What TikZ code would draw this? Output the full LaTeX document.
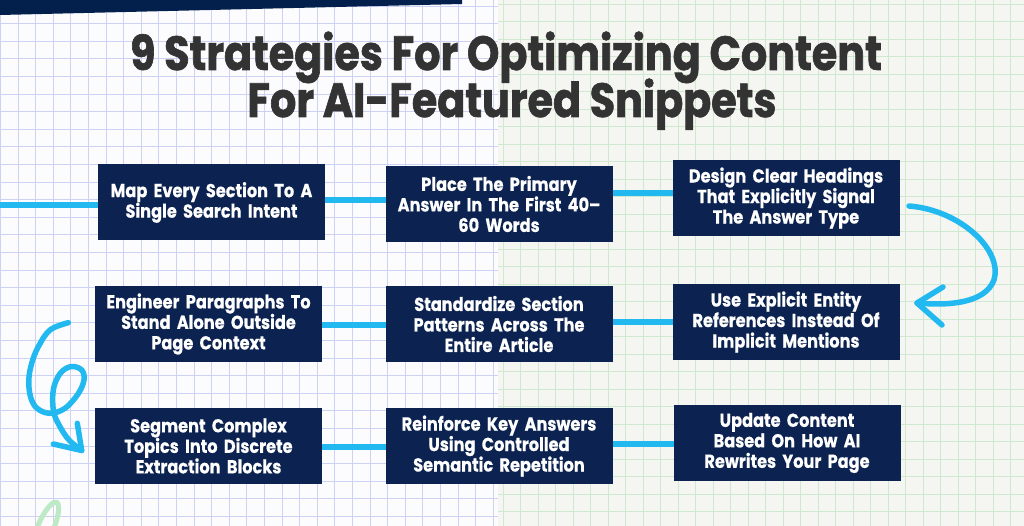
\documentclass[tikz,border=0pt]{standalone}
\usepackage{fontspec}
\setmainfont{Poppins}
\newfontfamily\titlefont[FakeStretch=0.86,FakeBold=1.3]{Poppins}
\newfontfamily\boxfont[FakeStretch=0.86,FakeBold=0.5]{Poppins}
\usetikzlibrary{calc}
\definecolor{navy}{HTML}{0C2250}
\definecolor{topbar}{HTML}{03204D}
\definecolor{cyanline}{HTML}{22B8F0}
\definecolor{titlegray}{HTML}{333333}
\definecolor{bluegrid}{HTML}{CBD2F4}
\definecolor{greengrid}{HTML}{CFE9D0}
\definecolor{leftbg}{HTML}{FCFCFE}
\definecolor{rightbg}{HTML}{F5F6F1}
\definecolor{softgreen}{HTML}{BDEAC4}
\tikzset{
  stepbox/.style={fill=navy, draw=navy, line width=1pt, minimum width=226pt, minimum height=75pt,
    text width=222pt, align=center, text=white, inner sep=0pt,
    font=\boxfont\bfseries\fontsize{18.8}{20.5}\selectfont},
  titletext/.style={font=\titlefont\bfseries\fontsize{48}{47}\selectfont, text=titlegray, anchor=base, inner sep=0pt},
  conn/.style={draw=cyanline, line width=6pt},
  curvy/.style={draw=cyanline, line width=5.5pt, line cap=round, line join=round},
  bgridline/.style={draw=bluegrid, line width=0.9pt},
  ggridline/.style={draw=greengrid, line width=0.9pt}
}
\begin{document}
\begin{tikzpicture}[x=1pt,y=-1pt]
\useasboundingbox (0,0) rectangle (1024,526);
% background
\fill[leftbg] (0,0) rectangle (498,526);
\fill[rightbg] (498,0) rectangle (1024,526);
\foreach \i in {0,...,28} \draw[bgridline] (\i*17.6+0.5,0) -- (\i*17.6+0.5,526);
\foreach \j in {0,...,30} \draw[bgridline] (0,\j*17.6+6) -- (498,\j*17.6+6);
\foreach \i in {0,...,30} \draw[ggridline] (498+\i*17.5+5,0) -- (498+\i*17.5+5,526);
\foreach \j in {0,...,30} \draw[ggridline] (498,\j*17.5+4) -- (1024,\j*17.5+4);
% top bar
\fill[topbar] (0,0) -- (462,0) -- (462,4) -- (0,15) -- cycle;
% title
\node[titletext] (title1) at (506,70) {9 Strategies For Optimizing Content};
\node[titletext] (title2) at (512,117) {For AI-Featured Snippets};
% boxes
\node[stepbox] (b1) at (211.5,202.5) {Map Every Section To A\\Single Search Intent};
\node[stepbox] (b2) at (499,204) {Place The Primary\\Answer In The First 40–\\60 Words};
\node[stepbox] (b3) at (786,198) {Design Clear Headings\\That Explicitly Signal\\The Answer Type};
\node[stepbox] (b4) at (208.5,324) {Engineer Paragraphs To\\Stand Alone Outside\\Page Context};
\node[stepbox] (b5) at (499,324) {Standardize Section\\Patterns Across The\\Entire Article};
\node[stepbox] (b6) at (786,322) {Use Explicit Entity\\References Instead Of\\Implicit Mentions};
\node[stepbox] (b7) at (208.5,446) {Segment Complex\\Topics Into Discrete\\Extraction Blocks};
\node[stepbox] (b8) at (499,446) {Reinforce Key Answers\\Using Controlled\\Semantic Repetition};
\node[stepbox] (b9) at (787,443) {Update Content\\Based On How AI\\Rewrites Your Page};
% straight connectors (horizontal)
\coordinate (in) at (0,205);
\draw[conn] (in) -- (in -| b1.west);
\draw[conn] (b1.east |- 0,200) -- (b2.west |- 0,200);
\draw[conn] (b2.east |- 0,193) -- (b3.west |- 0,193);
\draw[conn] (b6.west |- 0,322) -- (b5.east |- 0,322);
\draw[conn] (b5.west |- 0,325) -- (b4.east |- 0,325);
\draw[conn] (b7.east |- 0,447) -- (b8.west |- 0,447);
\draw[conn] (b8.east |- 0,444) -- (b9.west |- 0,444);
% right curved arrow from b3 to b6
\coordinate (rc0) at (909,206);
\coordinate (rctip) at (917,303);
\draw[curvy] (rc0) .. controls (960,210) and (1003,250) .. (994,280)
  .. controls (985,303) and (950,306) .. (rctip);
\draw[curvy] (943,287) -- (rctip) -- (942,325);
% left looping arrow from b4 to b7
\coordinate (lc0) at (68.3,322.7);
\coordinate (lctip) at (81.7,450.5);
\draw[curvy] plot[smooth, tension=0.6] coordinates {(lc0) (50,330) (38.3,346.7) (31.7,363.3) (28.8,380) (30.5,396.7) (37,408.3) (50,413.3) (65,408.3) (78,394) (84,380) (81.7,370) (71.7,366.5) (61.7,371.7) (55,383.3) (52.7,396.7) (54,413.3) (60,426.7) (69,440) (lctip)};
\draw[curvy] (53.3,444) -- (lctip) -- (77.3,423.3);
% faint green stroke bottom-left
\draw[draw=softgreen, line width=5pt, line cap=round] (37,528) .. controls (44,510) and (55,497) .. (58,504) .. controls (60,510) and (57,520) .. (54,528);
\end{tikzpicture}
\end{document}
